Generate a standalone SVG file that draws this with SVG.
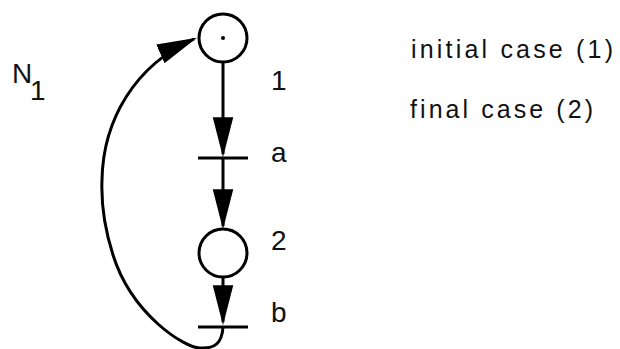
<svg xmlns="http://www.w3.org/2000/svg" width="620" height="349" viewBox="0 0 620 349">
  <style>
    .place { fill: #fff; stroke: #000; stroke-width: 3; }
    .bar { stroke: #000; stroke-width: 3; }
    .arc { fill: none; stroke: #000; stroke-width: 3; marker-end: url(#arrow); }
    .lbl { font-family: "Liberation Sans", Arial, sans-serif; font-size: 28px; fill: #111; }
    .note { font-family: "Liberation Sans", Arial, sans-serif; font-size: 25px; fill: #111; }
  </style>
  <defs>
    <marker id="arrow" markerUnits="userSpaceOnUse" markerWidth="40" markerHeight="22" viewBox="0 0 37 19" refX="34" refY="9.5" orient="auto">
      <path d="M0,0 L37,9.5 L0,19 Z" fill="#000"/>
    </marker>
  </defs>
  <rect width="620" height="349" fill="#fff"/>

  <g id="connectors">
    <line class="arc" x1="223" y1="62" x2="223" y2="154"/>
    <line class="arc" x1="223" y1="158" x2="223" y2="226"/>
    <line class="arc" x1="223" y1="277" x2="223" y2="322"/>
    <path class="arc" d="M223,327 C222,343 215,349 200,348 C185,348 132,315 113,255 C106,233 101,205 102,180 C103,120 135,65 194,39"/>
  </g>

  <g id="place1">
    <circle class="place" cx="223" cy="38" r="24"/>
    <circle cx="223" cy="38" r="2" fill="#000"/>
    <text class="lbl" x="271" y="90">1</text>
  </g>
  <g id="transition-a">
    <line class="bar" x1="198" y1="158" x2="248" y2="158"/>
    <text class="lbl" x="271" y="162">a</text>
  </g>
  <g id="place2">
    <circle class="place" cx="223" cy="253" r="24"/>
    <text class="lbl" x="271" y="250">2</text>
  </g>
  <g id="transition-b">
    <line class="bar" x1="198" y1="327" x2="248" y2="327"/>
    <text class="lbl" x="271" y="322">b</text>
  </g>

  <g id="title">
    <text class="lbl" x="12" y="83" font-size="25">N</text>
    <text class="lbl" x="30" y="100" font-size="26">1</text>
  </g>
  <g id="notes">
    <text class="note" x="411" y="58" textLength="202" lengthAdjust="spacing">initial case (1)</text>
    <text class="note" x="410" y="118" textLength="183" lengthAdjust="spacing">final case (2)</text>
  </g>
</svg>
